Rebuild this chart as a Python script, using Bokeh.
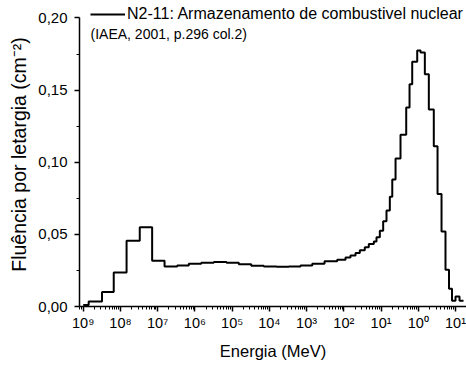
from bokeh.plotting import figure
from bokeh.models import (Range1d, FixedTicker, CustomJSTickFormatter, Legend,
                          LegendItem, Label)
from bokeh.embed import file_html
from bokeh.resources import INLINE

# Energy bin edges (MeV) and fluence per lethargy (cm^-2)
energy_edges = [1.0e-9, 1.4e-9, 3.2e-9, 6.6e-9, 1.46e-8, 3.3e-8, 7.1e-8, 1.53e-7,
                3.35e-7, 6.85e-7, 1.48e-6, 3.22e-6, 7.06e-6, 1.51e-5, 3.26e-5,
                7.1e-5, 1.56e-4, 3.33e-4, 6.87e-4, 1.42e-3, 3.03e-3, 6.64e-3,
                1.11e-2, 1.51e-2, 2.06e-2, 2.69e-2, 3.66e-2, 4.69e-2, 6.4e-2,
                7.55e-2, 9.27e-2, 0.114, 0.140, 0.172, 0.200, 0.245, 0.333, 0.474,
                0.582, 0.687, 0.936, 1.15, 1.50, 1.92, 2.61, 3.29, 4.21, 5.38,
                6.68, 8.05, 10.0, 12.8, 16.4]
fluence = [0.001, 0.0035, 0.010, 0.0236, 0.0456, 0.0549, 0.0317, 0.0278, 0.0285,
           0.0296, 0.0303, 0.0308, 0.0303, 0.0292, 0.0283, 0.0278, 0.0276, 0.0277,
           0.0285, 0.0296, 0.0313, 0.0324, 0.034, 0.0354, 0.037, 0.0389, 0.041,
           0.0433, 0.045, 0.048, 0.0525, 0.059, 0.0665, 0.076, 0.088, 0.1026,
           0.119, 0.138, 0.154, 0.1697, 0.1775, 0.176, 0.161, 0.1366, 0.111,
           0.078, 0.052, 0.0255, 0.0123, 0.004, 0.007, 0.004]

x_ticks = [1e-9, 1e-8, 1e-7, 1e-6, 1e-5, 1e-4, 1e-3, 1e-2, 1e-1, 1e0, 1e1]
x_tick_labels = ["10⁹", "10⁸", "10⁷", "10⁶", "10⁵", "10⁴", "10³", "10²", "10¹", "10⁰", "10¹"]
y_ticks = [0.0, 0.05, 0.10, 0.15, 0.20]
y_minor = [0.025, 0.075, 0.125, 0.175]

series_label = "N2-11: Armazenamento de combustivel nuclear"
source_label = "(IAEA, 2001, p.296 col.2)"

FONT = "Liberation Sans"

p = figure(width=466, height=367, x_axis_type="log",
           x_range=Range1d(10 ** -9.1, 10 ** 1.295), y_range=Range1d(0, 0.2107),
           output_backend="svg", toolbar_location=None,
           min_border_left=79, min_border_right=0, min_border_top=2,
           min_border_bottom=61)
p.outline_line_color = None
p.xgrid.visible = False
p.ygrid.visible = False
p.background_fill_color = "white"

step_y = fluence + [fluence[-1]]
r = p.step(x=energy_edges, y=step_y, mode="after", line_color="black", line_width=2)

minor_x = [k * 10.0 ** d for d in range(-10, 2) for k in range(2, 10)]
p.xaxis.ticker = FixedTicker(ticks=x_ticks, minor_ticks=minor_x)
p.xaxis.formatter = CustomJSTickFormatter(args=dict(labels=x_tick_labels),
    code="const e = Math.round(Math.log10(tick)); return labels[e + 9];")
p.yaxis.ticker = FixedTicker(ticks=y_ticks, minor_ticks=y_minor)
p.yaxis.formatter = CustomJSTickFormatter(code="return tick.toFixed(2).replace('.', ',');")
p.yaxis.bounds = (0, 0.2)

for ax in (p.xaxis[0], p.yaxis[0]):
    ax.axis_line_width = 1.5
    ax.axis_line_color = "black"
    ax.major_tick_line_color = "black"
    ax.minor_tick_line_color = "black"
    ax.major_tick_line_width = 1.5
    ax.minor_tick_line_width = 1
    ax.major_tick_in = 0
    ax.major_tick_out = 5
    ax.minor_tick_in = 0
    ax.minor_tick_out = 3
    ax.major_label_text_font = FONT
    ax.major_label_text_color = "black"
    ax.axis_label_text_font = FONT
    ax.axis_label_text_font_style = "normal"
    ax.axis_label_text_color = "black"

p.xaxis.major_label_text_font_size = "14.5px"
p.yaxis.major_label_text_font_size = "15px"
p.xaxis.axis_label_text_font_size = "16.5px"
p.yaxis.axis_label_text_font_size = "19.5px"
p.xaxis.axis_label = "Energia (MeV)"
p.yaxis.axis_label = "Fluência por letargia (cm⁻²)"
p.xaxis.major_label_standoff = 3
p.xaxis.axis_label_standoff = 8
p.yaxis.major_label_standoff = 7
p.yaxis.axis_label_standoff = 5

legend = Legend(items=[LegendItem(label=series_label, renderers=[r])],
                location=(11, 282), glyph_width=35, glyph_height=20,
                label_standoff=2, padding=0, margin=0, spacing=0,
                border_line_alpha=0, background_fill_alpha=0,
                label_text_font=FONT, label_text_font_size="16px",
                label_text_color="black")
p.add_layout(legend, "center")

p.add_layout(Label(x=11, y=273, x_units="screen", y_units="screen", text=source_label,
                   text_font=FONT, text_font_size="14px", text_color="black",
                   text_baseline="middle", text_align="left"))

open("out.html", "w").write(file_html(p, INLINE))
